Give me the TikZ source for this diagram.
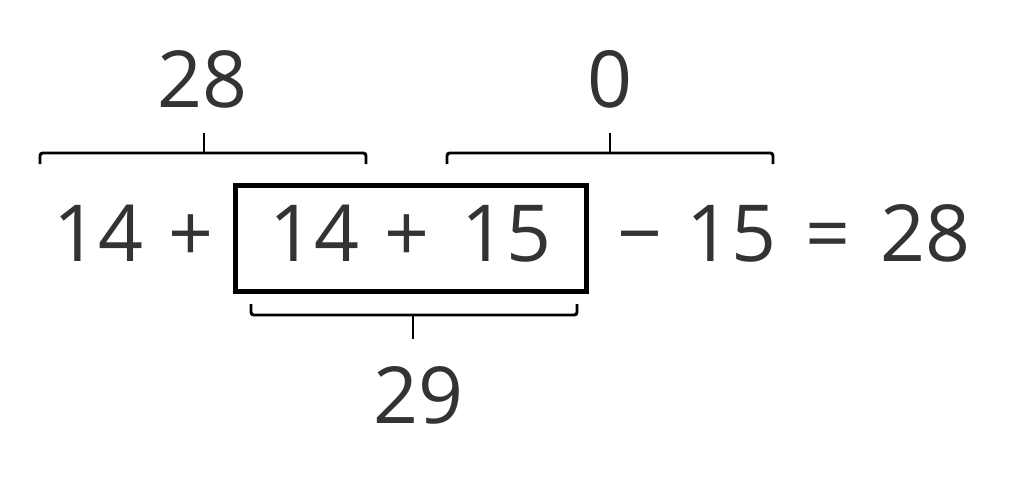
\documentclass[tikz,border=0pt]{standalone}
\usepackage{fontspec}
\setmainfont{Open Sans}
\definecolor{ink}{HTML}{333333}
\tikzset{
  num/.style={anchor=base, text=ink, inner sep=0pt, font=\fontsize{59}{66}\selectfont},
  brace/.style={line width=2.2pt, rounded corners=2pt},
  sumbox/.style={draw, line width=3.8pt, minimum width=263pt, minimum height=79.5pt, inner sep=0pt}
}
\begin{document}
\begin{tikzpicture}[x=0.75pt, y=-0.75pt]
  \useasboundingbox (0,0) rectangle (1020,492);
  \node[num] (a) at (98,261) {14};
  \node[num] (p1) at (191,261) {+};
  \node[sumbox] (box) at (411,238.5) {};
  \node[num] (b) at (314,261) {14};
  \node[num] (p2) at (407,261) {+};
  \node[num] (c) at (506,261) {15};
  \node[num] (m) at (640,261) {−};
  \node[num] (d) at (731,261) {15};
  \node[num] (eq) at (828,261) {=};
  \node[num] (r) at (925,261) {28};

  \node[num] (s1) at (202,107) {28};
  \node[num] (s2) at (610,107) {0};
  \node[num] (s3) at (418,423) {29};

  \coordinate (t1) at (204,153);
  \coordinate (t2) at (610,153);
  \coordinate (t3) at (413,315);
  \draw[brace] (40,164) |- (t1) -| (366,164);
  \draw[brace] (t1) -- (204,133);
  \draw[brace] (447,164) |- (t2) -| (773,164);
  \draw[brace] (t2) -- (610,133);
  \draw[brace] (251,304) |- (t3) -| (577,304);
  \draw[brace] (t3) -- (413,339);
\end{tikzpicture}
\end{document}
